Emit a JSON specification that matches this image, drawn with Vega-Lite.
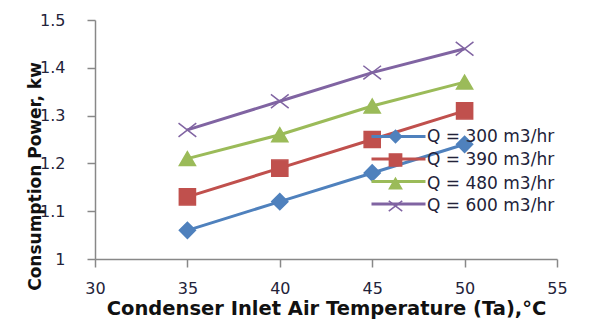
{
  "$schema": "https://vega.github.io/schema/vega-lite/v6.json",
  "autosize": {"type": "none"},
  "padding": {"left": 95, "top": 20, "right": 33, "bottom": 61},
  "width": 462,
  "height": 239,
  "background": "white",
  "config": {
    "view": {"stroke": null},
    "font": "DejaVu Sans",
    "axis": {
      "grid": false,
      "domainColor": "#888888",
      "tickColor": "#888888",
      "domainWidth": 1.5,
      "tickWidth": 1.5,
      "tickSize": 8,
      "labelFlush": false,
      "labelFont": "DejaVu Sans",
      "labelColor": "#23233a",
      "titleFont": "DejaVu Sans",
      "titleColor": "#111111",
      "titleFontWeight": "bold"
    }
  },
  "data": {
    "values": [
      {"series": "Q = 300 m3/hr", "ta": 35, "power": 1.06},
      {"series": "Q = 300 m3/hr", "ta": 40, "power": 1.12},
      {"series": "Q = 300 m3/hr", "ta": 45, "power": 1.18},
      {"series": "Q = 300 m3/hr", "ta": 50, "power": 1.24},
      {"series": "Q = 390 m3/hr", "ta": 35, "power": 1.13},
      {"series": "Q = 390 m3/hr", "ta": 40, "power": 1.19},
      {"series": "Q = 390 m3/hr", "ta": 45, "power": 1.25},
      {"series": "Q = 390 m3/hr", "ta": 50, "power": 1.31},
      {"series": "Q = 480 m3/hr", "ta": 35, "power": 1.21},
      {"series": "Q = 480 m3/hr", "ta": 40, "power": 1.26},
      {"series": "Q = 480 m3/hr", "ta": 45, "power": 1.32},
      {"series": "Q = 480 m3/hr", "ta": 50, "power": 1.37},
      {"series": "Q = 600 m3/hr", "ta": 35, "power": 1.27},
      {"series": "Q = 600 m3/hr", "ta": 40, "power": 1.33},
      {"series": "Q = 600 m3/hr", "ta": 45, "power": 1.39},
      {"series": "Q = 600 m3/hr", "ta": 50, "power": 1.44}
    ]
  },
  "encoding": {
    "x": {
      "field": "ta", "type": "quantitative",
      "scale": {"domain": [30, 55], "nice": false, "zero": false},
      "axis": {
        "values": [30, 35, 40, 45, 50, 55],
        "format": "d",
        "labelFontSize": 16,
        "labelPadding": 13,
        "title": "Condenser Inlet Air Temperature (Ta),°C",
        "titleFontSize": 19.5,
        "titleBaseline": "alphabetic",
        "titleY": 55
      }
    },
    "y": {
      "field": "power", "type": "quantitative",
      "scale": {"domain": [1, 1.5], "nice": false, "zero": false},
      "axis": {
        "values": [1, 1.1, 1.2, 1.3, 1.4, 1.5],
        "format": "~g",
        "labelFontSize": 16,
        "labelPadding": 22,
        "title": "Consumption Power, kw",
        "titleFontSize": 17,
        "titleAngle": 270,
        "titleAlign": "center",
        "titleBaseline": "middle",
        "titleX": -60,
        "titleY": 156
      }
    }
  },
  "layer": [
    {
      "mark": {"type": "line", "strokeWidth": 3},
      "encoding": {
        "color": {
          "field": "series", "type": "nominal",
          "scale": {"range": ["#4F81BD", "#C0504D", "#9BBB59", "#8064A2"]},
          "legend": {
            "orient": "none",
            "legendX": 295,
            "legendY": 108,
            "title": null,
            "padding": 0,
            "symbolType": "M-9,0L9,0",
            "symbolSize": 36,
            "symbolStrokeWidth": 3,
            "labelFontSize": 17,
            "labelExpr": "''",
            "rowPadding": 4.5
          }
        }
      }
    },
    {
      "mark": {"type": "point", "filled": true, "size": 260, "strokeWidth": 1.5, "opacity": 1},
      "encoding": {
        "fill": {
          "field": "series", "type": "nominal",
          "scale": {"domain": ["Q = 300 m3/hr", "Q = 390 m3/hr", "Q = 480 m3/hr", "Q = 600 m3/hr"], "range": ["#4F81BD", "#C0504D", "#9BBB59", "#8064A2"]},
          "legend": {"orient": "none", "legendX": 292, "legendY": 108, "title": null, "padding": 0, "symbolSize": 150, "symbolStrokeWidth": 1.5, "labelFontSize": 17, "labelOffset": 23, "labelColor": "#23233a", "rowPadding": 4.5}
        },
        "stroke": {
          "field": "series", "type": "nominal",
          "scale": {"domain": ["Q = 300 m3/hr", "Q = 390 m3/hr", "Q = 480 m3/hr", "Q = 600 m3/hr"], "range": ["#4F81BD", "#C0504D", "#9BBB59", "#8064A2"]},
          "legend": {"orient": "none", "legendX": 292, "legendY": 108, "title": null, "padding": 0, "symbolSize": 150, "symbolStrokeWidth": 1.5, "labelFontSize": 17, "labelOffset": 23, "labelColor": "#23233a", "rowPadding": 4.5}
        },
        "shape": {
          "field": "series", "type": "nominal",
          "scale": {"domain": ["Q = 300 m3/hr", "Q = 390 m3/hr", "Q = 480 m3/hr", "Q = 600 m3/hr"], "range": ["diamond", "square", "triangle-up", "M-1.1,-0.85L1.1,0.85M-1.1,0.85L1.1,-0.85"]},
          "legend": {"orient": "none", "legendX": 292, "legendY": 108, "title": null, "padding": 0, "symbolSize": 150, "symbolStrokeWidth": 1.5, "labelFontSize": 17, "labelOffset": 23, "labelColor": "#23233a", "rowPadding": 4.5}
        }
      }
    }
  ]
}
